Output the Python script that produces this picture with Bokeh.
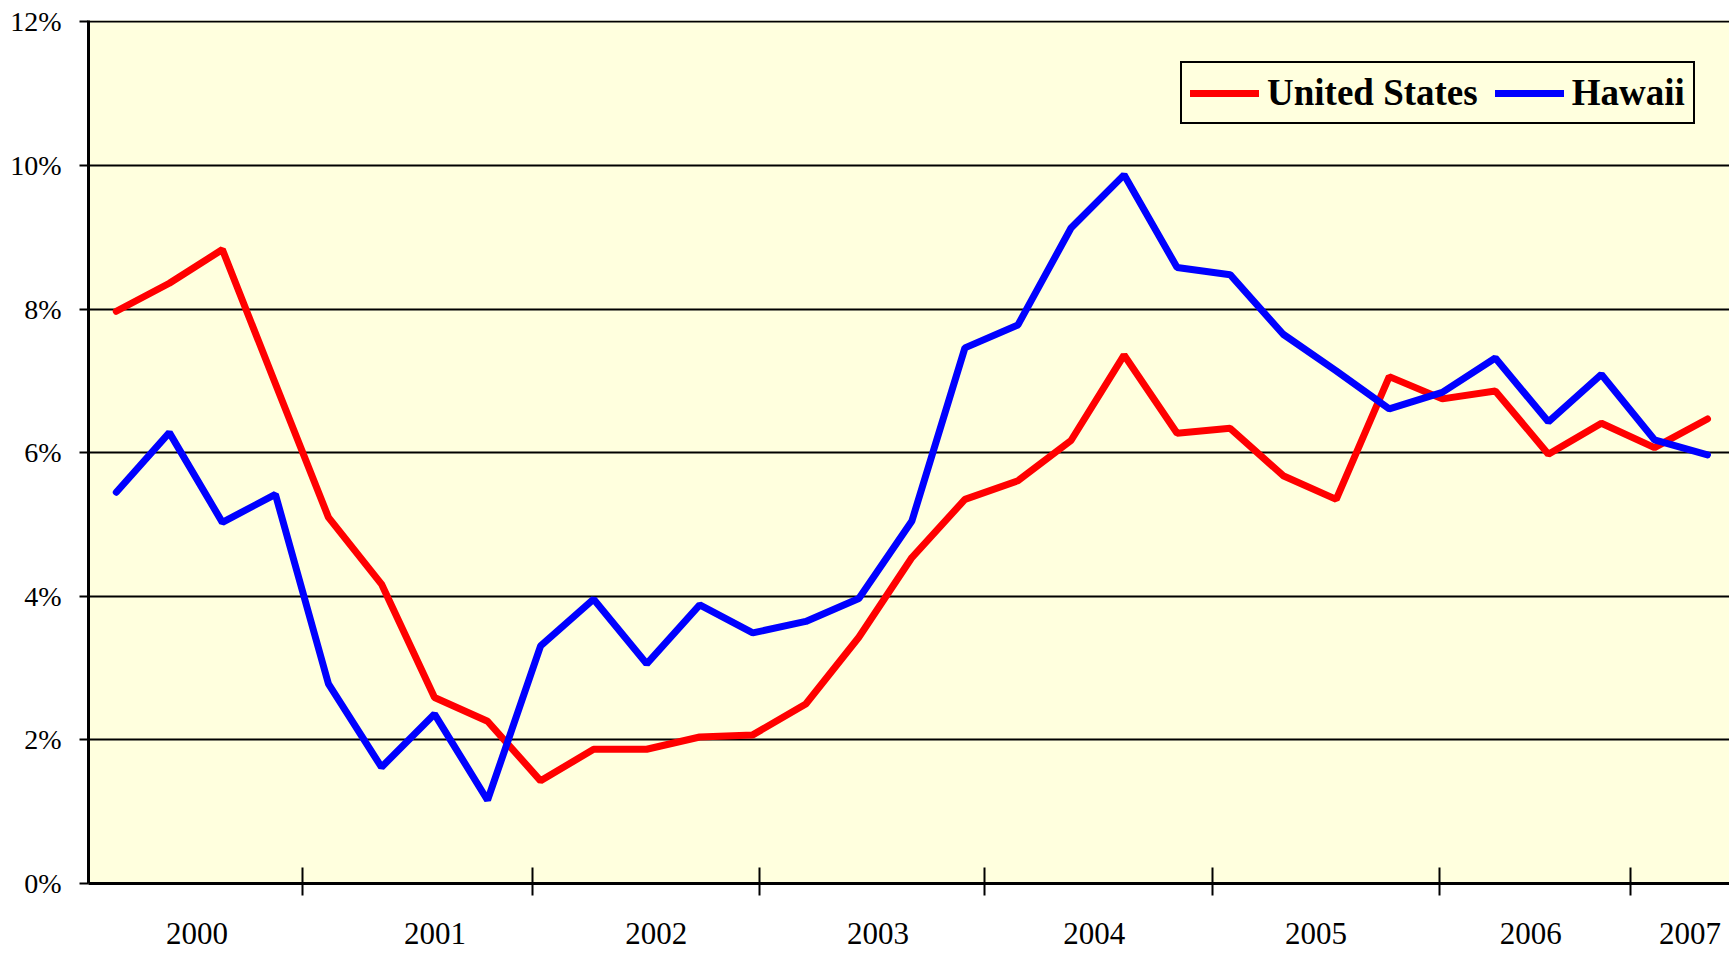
from bokeh.plotting import figure
from bokeh.models import Range1d, FixedTicker, PrintfTickFormatter, LinearAxis
from bokeh.embed import file_html
from bokeh.resources import INLINE

# ---- data (quarterly, 2000 Q1 .. 2007 Q3), percent ----
quarters = [f"{y}Q{q}" for y in range(2000, 2008) for q in range(1, 5)][:31]
us = [7.97, 8.36, 8.83, 6.96, 5.10, 4.17, 2.59, 2.26, 1.43, 1.87,
      1.87, 2.04, 2.07, 2.50, 3.43, 4.54, 5.35, 5.61, 6.17, 7.36,
      6.27, 6.34, 5.68, 5.35, 7.06, 6.75, 6.86, 5.98, 6.41, 6.07, 6.47]
hawaii = [5.45, 6.28, 5.03, 5.42, 2.78, 1.62, 2.36, 1.16, 3.31, 3.96,
          3.06, 3.88, 3.49, 3.65, 3.97, 5.05, 7.46, 7.78, 9.13, 9.87,
          8.58, 8.48, 7.65, 7.14, 6.61, 6.84, 7.32, 6.43, 7.09, 6.18, 5.97]
years = ["2000", "2001", "2002", "2003", "2004", "2005", "2006", "2007"]
y_ticks = [0, 2, 4, 6, 8, 10, 12]

idx = list(range(len(quarters)))

BG = "#FFFFDE"
FONT = "Liberation Serif"

# frame spans x 88..1729, y 20..883 of the page
p = figure(width=1729, height=953, output_backend="svg", toolbar_location=None,
           x_range=Range1d(-0.524, 30.415), y_range=Range1d(0, 12.02),
           x_axis_type=None, min_border_left=88, min_border_right=0,
           min_border_top=20, min_border_bottom=70)
p.background_fill_color = BG
p.border_fill_color = "white"
p.outline_line_color = None

# y axis
p.yaxis.ticker = FixedTicker(ticks=y_ticks)
p.yaxis.formatter = PrintfTickFormatter(format="%d%%")
p.yaxis.major_label_text_font = FONT
p.yaxis.major_label_text_font_size = "28px"
p.yaxis.major_label_text_color = "black"
p.yaxis.major_label_standoff = 18
p.yaxis.major_tick_in = 0
p.yaxis.major_tick_out = 9
p.yaxis.major_tick_line_width = 2
p.yaxis.minor_tick_line_color = None
p.yaxis.axis_line_width = 3
p.yaxis.axis_line_color = "black"

p.ygrid.ticker = FixedTicker(ticks=y_ticks)
p.ygrid.grid_line_color = "black"
p.ygrid.grid_line_width = 2
p.xgrid.grid_line_color = None

# x axis: year boundaries as minor ticks, year labels as major (invisible) ticks
year_tick_pos = [3.51, 7.84, 12.12, 16.36, 20.66, 24.95, 28.55]
year_label_pos = [1.52, 6.01, 10.18, 14.36, 18.44, 22.62, 26.67, 29.67]
xaxis = LinearAxis(ticker=FixedTicker(ticks=year_label_pos, minor_ticks=year_tick_pos))
xaxis.major_label_overrides = {pos: lab for pos, lab in zip(year_label_pos, years)}
xaxis.major_tick_in = 0
xaxis.major_tick_out = 0
xaxis.major_tick_line_color = None
xaxis.minor_tick_in = 16
xaxis.minor_tick_out = 12
xaxis.minor_tick_line_width = 2
xaxis.minor_tick_line_color = "black"
xaxis.major_label_text_font = FONT
xaxis.major_label_text_font_size = "31px"
xaxis.major_label_text_color = "black"
xaxis.major_label_standoff = 27
xaxis.axis_line_width = 3
xaxis.axis_line_color = "black"
p.add_layout(xaxis, "below")

p.line(idx, us, line_color="#FF0000", line_width=7, line_cap="round",
       legend_label="United States")
p.line(idx, hawaii, line_color="#0000FF", line_width=7, line_cap="round",
       legend_label="Hawaii")

lg = p.legend[0]
lg.orientation = "horizontal"
lg.location = (1092, 759)
lg.margin = 0
lg.padding = 8
lg.spacing = 17
lg.glyph_width = 69
lg.glyph_height = 36
lg.label_standoff = 8
lg.label_text_font = FONT
lg.label_text_font_style = "bold"
lg.label_text_font_size = "37px"
lg.label_text_color = "black"
lg.border_line_color = "black"
lg.border_line_width = 2
lg.border_line_alpha = 1.0
lg.background_fill_color = BG
lg.background_fill_alpha = 1.0

open("out.html", "w").write(file_html(p, INLINE))
